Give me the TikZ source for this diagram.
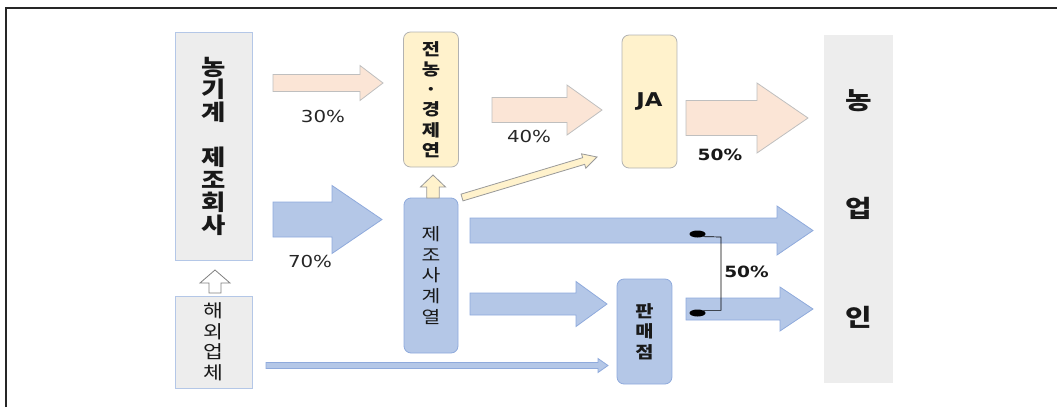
\documentclass[tikz,border=0pt]{standalone}
\usepackage{fontspec}
\newfontfamily\krfont{Noto Sans CJK KR}
\newfontfamily\numfont{DejaVu Sans}
\usetikzlibrary{shapes.geometric}
\definecolor{peach}{HTML}{FBE5D6}
\definecolor{skyfill}{HTML}{B4C7E7}
\definecolor{skyline}{HTML}{8FAADC}
\definecolor{cream}{HTML}{FFF2CC}
\definecolor{boxgray}{HTML}{EDEDED}
\def\blockarrow[#1](#2)(#3:#4:#5:#6:#7){\begin{scope}[shift={(#2)},rotate=#3]\draw[#1] (0,-#5) -- (#4-#7,-#5) -- (#4-#7,-#6) -- (#4,0) -- (#4-#7,#6) -- (#4-#7,#5) -- (0,#5) -- cycle;\end{scope}}
\tikzset{
	graybox/.style={draw=skyfill, fill=boxgray, line width=0.8pt, align=center, inner sep=0pt, xscale=1.2, text=black!90},
	creambox/.style={draw=black!30, fill=cream, line width=0.8pt, rounded corners=7pt, align=center, inner sep=0pt, xscale=1.2, text=black!90},
	skybox/.style={draw=skyline, fill=skyfill, line width=0.8pt, rounded corners=7pt, align=center, inner sep=0pt, xscale=1.2, text=black!90},
	pct/.style={font=\numfont\fontsize{16.5}{18}\selectfont, xscale=1.2, text=black!85},
	pctb/.style={font=\numfont\bfseries\fontsize{15.5}{18}\selectfont, xscale=1.2, text=black!90},
	peacharrow/.style={draw=black!25, fill=peach, line width=0.8pt},
	skyarrow/.style={draw=skyline, fill=skyfill, line width=0.8pt},
	creamarrow/.style={draw=black!40, fill=cream, line width=0.8pt},
	hollowarrow/.style={draw=black!50, fill=white, line width=0.8pt},
	knob/.style={ellipse, fill=black, minimum width=16pt, minimum height=7pt, inner sep=0pt}
}
\begin{document}
\begin{tikzpicture}[x=1pt,y=-1pt]
		%%%%% START %%%%%
		\useasboundingbox (0,0) rectangle (1057,407);
		
		\draw[line width=1.5pt, black!85] (6,407) -- (6,8) -- (1057,8);
		
		\node[graybox, minimum width=64.2, minimum height=228, font=\krfont\bfseries\fontsize{22}{22.5}\selectfont] (maker) at (213.5,146) {농\\기\\계\\[23pt]제\\조\\회\\사};
		\node[graybox, minimum width=64.2, minimum height=92, font=\krfont\fontsize{18}{20.5}\selectfont] (overseas) at (213.5,342) {해\\외\\업\\체};
		\node[graybox, draw=none, minimum width=57.5, minimum height=348, font=\krfont\bfseries\fontsize{24}{108.5}\selectfont] (farmer) at (858.5,209) {농\\업\\인};
		
		\node[creambox, minimum width=45.8, minimum height=135, font=\krfont\bfseries\fontsize{16.5}{20.2}\selectfont] (union) at (431,99.5) {전\\농\\·\\경\\제\\연};
		\node[creambox, minimum width=45.8, minimum height=133, font=\numfont\bfseries\fontsize{19}{20}\selectfont] (ja) at (649.5,101.5) {JA};
		\node[skybox, minimum width=45, minimum height=155, font=\krfont\fontsize{17}{20.7}\selectfont] (series) at (431,275.5) {제\\조\\사\\계\\열};
		\node[skybox, minimum width=45.8, minimum height=105, font=\krfont\bfseries\fontsize{16.5}{20.5}\selectfont] (dealer) at (644.5,331.5) {판\\매\\점};
		
		% block arrows: (start)(angle:length:shaft:head:head length)
		\blockarrow[hollowarrow](215,293)(90:23:6:15:13)
		\blockarrow[creamarrow](433,198)(90:23:6.3:12.5:12)
		\blockarrow[peacharrow](273,83)(0:110:8.5:17.5:23)
		\blockarrow[skyarrow](273,219.5)(0:109:17.5:34:50)
		\blockarrow[peacharrow](492,110)(0:110:12.5:25:35)
		\blockarrow[peacharrow](686,118)(0:122:17.5:35:51)
		\blockarrow[creamarrow](462,197.5)(16.7:141:3.5:7.5:14)
		\blockarrow[skyarrow](470,230.5)(0:343:12.5:24.5:36)
		\blockarrow[skyarrow](470,304)(0:137:11:22.5:31)
		\blockarrow[skyarrow](266,365.5)(0:342:3:7:10)
		\blockarrow[skyarrow](686,309)(0:127:11:22:33)
		
		\node[pct] (p30) at (323,116) {30\%};
		\node[pct] (p70) at (310,261.5) {70\%};
		\node[pct] (p40) at (529,136.5) {40\%};
		\node[pctb] (p50a) at (720,155) {50\%};
		\node[pctb] (p50b) at (746.5,272) {50\%};
		
		\node[knob] (dtop) at (697.5,234) {};
		\node[knob] (dbot) at (697.5,313) {};
		\coordinate (bend) at (721,237);
		\draw[line width=0.7pt] (dtop.south east) -- (bend) |- (dbot.north east);
		
		%%%%% END %%%%%
\end{tikzpicture}
\end{document}
